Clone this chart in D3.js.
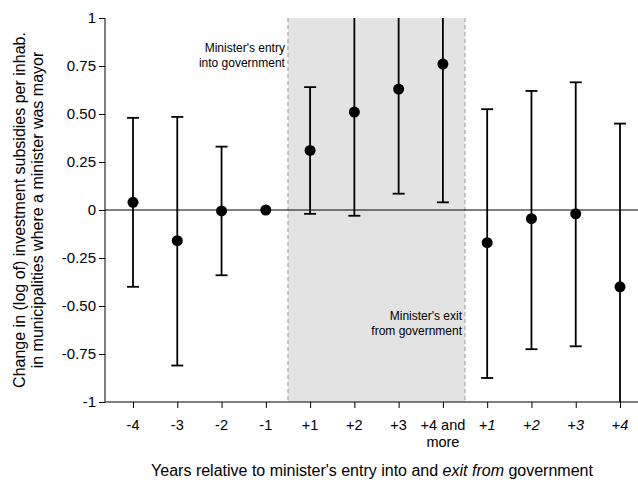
<!DOCTYPE html>
<html><head><meta charset="utf-8">
<script src="https://cdn.jsdelivr.net/npm/d3@7"></script>
<style>body{margin:0;background:#fff}text{font-family:Arial,"Liberation Sans",sans-serif}</style>
</head><body>
<svg id="chart" width="638" height="483"></svg>
<script>
var labels = ["-4","-3","-2","-1","+1","+2","+3","+4 and more","+1i","+2i","+3i","+4i"]
var est = [0.04,-0.16,-0.005,0,0.31,0.51,0.63,0.76,-0.17,-0.045,-0.02,-0.40]
var lo  = [-0.40,-0.81,-0.34,null,-0.02,-0.03,0.085,0.04,-0.875,-0.725,-0.71,-1.2]
var hi  = [0.48,0.485,0.33,null,0.64,1.2,1.2,1.2,0.525,0.62,0.665,0.45]
var yTicks = [1,0.75,0.5,0.25,0,-0.25,-0.5,-0.75,-1]
var yTickLabels = ["1","0.75","0.50","0.25","0","-0.25","-0.50","-0.75","-1"]

var svg = d3.select("#chart")
var mLeft = 105, mRight = 638, mTop = 18, mBottom = 402

var x = d3.scalePoint().domain(labels).range([133, 620])
var y = d3.scaleLinear().domain([-1, 1]).range([mBottom, mTop])

// shaded period in government
var sx0 = (x("-1") + x("+1")) / 2, sx1 = (x("+4 and more") + x("+1i")) / 2
svg.append("rect").attr("x", sx0).attr("y", mTop).attr("width", sx1 - sx0).attr("height", mBottom - mTop)
    .attr("fill", "#e3e3e3")
;[sx0, sx1].forEach(function(v){
    svg.append("line").attr("x1", v).attr("x2", v).attr("y1", mTop).attr("y2", mBottom)
        .attr("stroke", "#999").attr("stroke-dasharray", "4,3")
})

// axes
var ya = svg.append("g").attr("transform", "translate(" + mLeft + ",0)")
    .call(d3.axisLeft(y).tickValues(yTicks).tickSize(6).tickFormat(function(d, i){ return yTickLabels[i] }))
ya.selectAll("text").attr("font-size", 15).attr("fill", "#000")
var xa = svg.append("g").attr("transform", "translate(0," + mBottom + ")")
    .call(d3.axisBottom(x).tickSize(6).tickFormat(""))
ya.select(".domain").attr("d", "M0," + mTop + "V" + mBottom)
xa.select(".domain").attr("d", "M" + mLeft + ",0H" + mRight)
svg.selectAll(".domain, .tick line").attr("stroke", "#000")

labels.forEach(function(l){
    var t = svg.append("text").attr("x", x(l)).attr("y", 430).attr("text-anchor", "middle")
        .attr("font-size", 14.5)
    if (l == "+4 and more") {
        t.append("tspan").attr("x", x(l)).text("+4 and")
        t.append("tspan").attr("x", x(l)).attr("dy", 17).text("more")
    } else if (l.slice(-1) == "i") {
        t.append("tspan").text("+")
        t.append("tspan").attr("font-style", "italic").text(l.slice(1, 2))
    } else t.text(l)
})

// zero line
svg.append("line").attr("x1", mLeft).attr("x2", mRight).attr("y1", y(0)).attr("y2", y(0)).attr("stroke", "#000")

var g = svg.append("g")
var clip = function(v){ return Math.max(-1, Math.min(1, v)) }
labels.forEach(function(l, i){
    if (lo[i] !== null) {
        g.append("line").attr("x1", x(l)).attr("x2", x(l)).attr("y1", y(clip(lo[i]))).attr("y2", y(clip(hi[i])))
            .attr("stroke", "#000").attr("stroke-width", 1.8)
        ;[lo[i], hi[i]].forEach(function(v){
            if (Math.abs(v) <= 1) g.append("line").attr("x1", x(l) - 6).attr("x2", x(l) + 6)
                .attr("y1", y(v)).attr("y2", y(v)).attr("stroke", "#000").attr("stroke-width", 1.8)
        })
    }
    g.append("circle").attr("cx", x(l)).attr("cy", y(est[i])).attr("r", 5.5).attr("fill", "#000")
})

// annotations
var a1 = svg.append("text").attr("text-anchor", "end").attr("font-size", 12)
a1.append("tspan").attr("x", sx0 - 3).attr("y", 52).text("Minister's entry")
a1.append("tspan").attr("x", sx0 - 3).attr("y", 67).text("into government")
var a2 = svg.append("text").attr("text-anchor", "end").attr("font-size", 12)
a2.append("tspan").attr("x", sx1 - 3).attr("y", 320).text("Minister's exit")
a2.append("tspan").attr("x", sx1 - 3).attr("y", 335).text("from government")

// titles
var xt = svg.append("text").attr("x", 372).attr("y", 476).attr("text-anchor", "middle").attr("font-size", 16)
xt.append("tspan").text("Years relative to minister's entry into and ")
xt.append("tspan").attr("font-style", "italic").text("exit from")
xt.append("tspan").text(" government")
var yt = svg.append("text").attr("transform", "translate(25,210) rotate(-90)").attr("text-anchor", "middle").attr("font-size", 16)
yt.append("tspan").attr("x", 0).attr("y", 0).text("Change in (log of) investment subsidies per inhab.")
yt.append("tspan").attr("x", 0).attr("y", 18).text("in municipalities where a minister was mayor")
</script>
</body></html>
